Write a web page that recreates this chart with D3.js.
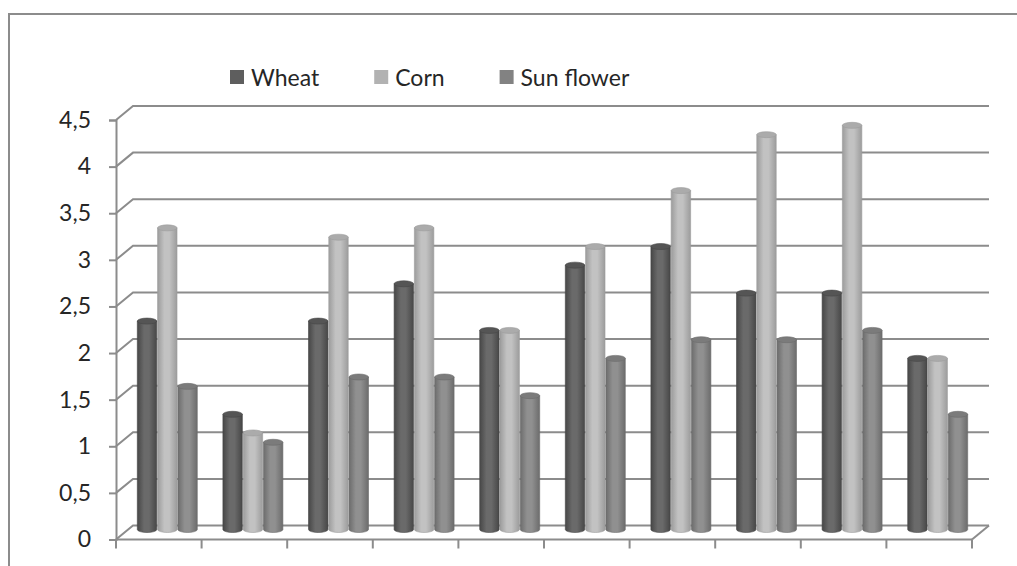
<!DOCTYPE html>
<html>
<head>
<meta charset="utf-8">
<script src="https://cdn.jsdelivr.net/npm/d3@7"></script>
<style>
  html, body { margin: 0; padding: 0; background: #fff; }
  svg { display: block; }
  text { font-family: Lato, "Open Sans", sans-serif; fill: #262626; }
</style>
</head>
<body>
<svg id="chart" width="1017" height="566"></svg>
<script>
// Yields (t/ha) per year for three crops
const categories = ["2001", "2002", "2003", "2004", "2005", "2006", "2007", "2008", "2009", "2010"];
const series = ["Wheat", "Corn", "Sun flower"];
const wheat     = [2.3, 1.3, 2.3, 2.7, 2.2, 2.9, 3.1, 2.6, 2.6, 1.9];
const corn      = [3.3, 1.1, 3.2, 3.3, 2.2, 3.1, 3.7, 4.3, 4.4, 1.9];
const sunflower = [1.6, 1.0, 1.7, 1.7, 1.5, 1.9, 2.1, 2.1, 2.2, 1.3];
const yTicks = [0, 0.5, 1, 1.5, 2, 2.5, 3, 3.5, 4, 4.5];

const values = [wheat, corn, sunflower];
const colors = {
  "Wheat":      { legend: "#5e5e5e", edge: "#474747", mid: "#6a6a6a", cap: "#555555" },
  "Corn":       { legend: "#b2b2b2", edge: "#9c9c9c", mid: "#c2c2c2", cap: "#ababab" },
  "Sun flower": { legend: "#828282", edge: "#6c6c6c", mid: "#909090", cap: "#7b7b7b" }
};

const svg = d3.select("#chart");
const gridColor = "#8c8c8c";

// 3D depth of the plot box (back wall offset)
const depthX = 17, depthY = -14;
const left = 116, right = 972;

const y = d3.scaleLinear().domain([0, 4.5]).range([539.5, 120]);
const x0 = d3.scaleBand().domain(categories).range([left, right]).padding(0);
const groupWidth = 60;
const x1 = d3.scaleBand().domain(series).range([0, groupWidth]).paddingInner(0.04);
const groupOffset = (x0.bandwidth() - groupWidth) / 2 + depthX / 2;

// outer chart frame
svg.append("path")
  .attr("d", `M9,566 L9,14 L1017,14`)
  .attr("fill", "none").attr("stroke", gridColor).attr("stroke-width", 2);

// gradients for cylinder shading
const defs = svg.append("defs");
series.forEach((s, i) => {
  const c = colors[s];
  const g = defs.append("linearGradient").attr("id", "cyl" + i)
    .attr("x1", "0").attr("x2", "1").attr("y1", "0").attr("y2", "0");
  g.append("stop").attr("offset", "0").attr("stop-color", c.edge);
  g.append("stop").attr("offset", "0.35").attr("stop-color", c.mid);
  g.append("stop").attr("offset", "0.6").attr("stop-color", c.mid);
  g.append("stop").attr("offset", "1").attr("stop-color", c.edge);
});

// side wall diagonals and back wall gridlines
const grid = svg.append("g").attr("stroke", gridColor).attr("stroke-width", 2).attr("fill", "none");
yTicks.forEach(t => {
  const yy = y(t);
  grid.append("path")
    .attr("d", `M${left},${yy} L${left + depthX},${yy + depthY} L${right + depthX},${yy + depthY}`);
});
// floor right edge
grid.append("path")
  .attr("d", `M${right},${y(0)} L${right + depthX},${y(0) + depthY}`);

// front value axis
const yAxis = d3.axisLeft(y).tickValues(yTicks).tickSize(7).tickPadding(18)
  .tickFormat(d => String(d).replace(".", ","));
const yAxisG = svg.append("g").attr("transform", `translate(${left},0)`).call(yAxis);
yAxisG.select(".domain").attr("stroke", gridColor).attr("stroke-width", 2);
yAxisG.selectAll(".tick line").attr("stroke", gridColor).attr("stroke-width", 2);
yAxisG.selectAll(".tick text").attr("font-size", 23).attr("font-family", "Lato, sans-serif").attr("fill", "#262626");

// front category axis (labels fall below the visible area)
const xAxisLine = svg.append("g").attr("stroke", gridColor).attr("stroke-width", 2);
xAxisLine.append("line").attr("x1", left).attr("x2", right).attr("y1", y(0)).attr("y2", y(0));
const tickXs = categories.map(c => x0(c)).concat([right]);
xAxisLine.selectAll("line.tick").data(tickXs).join("line").attr("class", "tick")
  .attr("x1", d => d).attr("x2", d => d).attr("y1", y(0)).attr("y2", y(0) + 9);

// cylinders
const baseY = y(0) - 7;
const ry = 3;
const bars = svg.append("g");
categories.forEach((cat, ci) => {
  series.forEach((s, si) => {
    const v = values[si][ci];
    const bx = x0(cat) + groupOffset + x1(s);
    const w = x1.bandwidth();
    const rx = w / 2;
    const h = y(0) - y(v);
    const topC = baseY - h + ry;
    const botC = baseY - ry;
    const g = bars.append("g");
    g.append("path")
      .attr("d", `M${bx},${topC} L${bx},${botC} A${rx},${ry} 0 0 0 ${bx + w},${botC} L${bx + w},${topC} Z`)
      .attr("fill", `url(#cyl${si})`)
      .attr("stroke", colors[s].edge).attr("stroke-width", 0.6);
    g.append("ellipse")
      .attr("cx", bx + rx).attr("cy", topC).attr("rx", rx).attr("ry", ry)
      .attr("fill", colors[s].cap)
      .attr("stroke", colors[s].edge).attr("stroke-width", 0.6);
  });
});

// legend
const legend = svg.append("g");
let lx = 230;
series.forEach(s => {
  legend.append("rect").attr("x", lx).attr("y", 70).attr("width", 14).attr("height", 14)
    .attr("fill", colors[s].legend);
  const t = legend.append("text").attr("x", lx + 21).attr("y", 86)
    .attr("font-size", 23).text(s);
  lx += 21 + t.node().getComputedTextLength() + 55;
});
</script>
</body>
</html>
